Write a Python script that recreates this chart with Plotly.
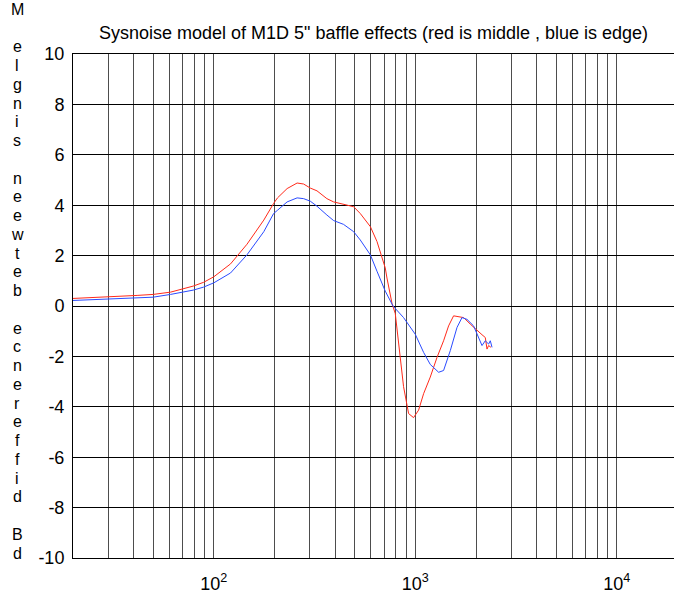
import math
import plotly.graph_objects as go

# ---- data ----
freq_red = [20, 30, 41.6, 50, 61, 79, 89, 100, 121, 146, 177, 198, 207, 231, 259, 279, 301,
            325, 364, 393, 440, 494, 533, 598, 645, 709, 723, 766, 795, 842, 874, 926, 980,
            1038, 1099, 1186, 1281, 1381, 1462, 1548, 1639, 1736, 1874, 2023, 2142, 2224,
            2268, 2310, 2373]
db_red = [0.30, 0.35, 0.42, 0.46, 0.55, 0.79, 0.94, 1.16, 1.67, 2.45, 3.41, 4.07, 4.29, 4.66,
          4.88, 4.84, 4.68, 4.57, 4.26, 4.13, 4.04, 3.94, 3.67, 3.15, 2.56, 1.51, 1.11, 0.10,
          -0.30, -2.17, -3.20, -4.27, -4.43, -4.13, -3.48, -2.82, -2.04, -1.38, -0.79, -0.39,
          -0.43, -0.46, -0.72, -0.98, -1.14, -1.25, -1.71, -1.57, -1.64]

freq_blue = [20, 30, 41.6, 50, 61, 79, 89, 100, 121, 146, 177, 198, 207, 231, 259, 279, 301,
             325, 364, 393, 440, 494, 533, 598, 645, 709, 775, 874, 999, 1099, 1186, 1305,
             1381, 1491, 1610, 1704, 1805, 1946, 2142, 2224, 2310, 2355, 2402]
db_blue = [0.22, 0.27, 0.30, 0.35, 0.46, 0.63, 0.75, 0.92, 1.31, 2.03, 2.95, 3.67, 3.80, 4.13,
           4.29, 4.26, 4.16, 3.96, 3.61, 3.39, 3.24, 2.95, 2.62, 2.03, 1.38, 0.59, 0.00,
           -0.46, -1.12, -1.84, -2.32, -2.63, -2.56, -1.77, -0.85, -0.46, -0.53, -0.79,
           -1.57, -1.38, -1.51, -1.38, -1.64]

x_major_vals = [100, 1000, 10000]
x_major_text = ["10<sup>2</sup>", "10<sup>3</sup>", "10<sup>4</sup>"]
x_minor_vals = [20, 30, 40, 50, 60, 70, 80, 90,
                200, 300, 400, 500, 600, 700, 800, 900,
                2000, 3000, 4000, 5000, 6000, 7000, 8000, 9000]
y_tick_vals = [-10, -8, -6, -4, -2, 0, 2, 4, 6, 8, 10]
y_tick_text = ["-10", "-8", "-6", "-4", "-2", "0", "2", "4", "6", "8", "10"]

title_text = "Sysnoise model of M1D 5\" baffle effects (red is middle , blue is edge)"
ylabel_text = "dB difference between single M"

FONT = "Liberation Sans, Arial, Helvetica, sans-serif"
W, H = 674, 594
L, R, T, B = 73, 0, 54, 32
PW, PH = W - L - R, H - T - B

fig = go.Figure()
fig.add_trace(go.Scatter(x=freq_red, y=db_red, mode="lines",
                         line=dict(color="#ff2a1a", width=1), showlegend=False))
fig.add_trace(go.Scatter(x=freq_blue, y=db_blue, mode="lines",
                         line=dict(color="#2a4bff", width=1), showlegend=False))

decade_px = 201.5
x0 = math.log10(20)
x1 = x0 + PW / decade_px

fig.update_xaxes(type="log", range=[x0, x1],
                 tickmode="array", tickvals=x_major_vals, ticktext=x_major_text,
                 showgrid=True, gridcolor="#4d4d4d", gridwidth=1,
                 minor=dict(tickmode="array", tickvals=x_minor_vals, showgrid=True,
                            gridcolor="#4d4d4d", gridwidth=1, ticks=""),
                 showline=True, linecolor="black", linewidth=1, mirror=True,
                 ticks="", ticklabelstandoff=9,
                 tickfont=dict(family=FONT, size=18, color="black"),
                 zeroline=False)
fig.update_yaxes(range=[-10, 10], tickmode="array", tickvals=y_tick_vals,
                 ticktext=y_tick_text,
                 showgrid=True, gridcolor="black", gridwidth=1,
                 showline=True, linecolor="black", linewidth=1, mirror=False,
                 ticks="", ticklabelstandoff=4,
                 tickfont=dict(family=FONT, size=18, color="black"),
                 zeroline=False)

# stacked (reversed) y-label letters
chars = list(ylabel_text)[::-1]
for i, ch in enumerate(chars):
    if ch == " ":
        continue
    py = 9 + 18.9 * i
    fig.add_annotation(text=ch, xref="paper", yref="paper",
                       x=(17 - L) / PW, y=(H - B - py) / PH,
                       xanchor="center", yanchor="middle", showarrow=False,
                       font=dict(family=FONT, size=16, color="black"))

fig.update_layout(
    width=W, height=H, margin=dict(l=L, r=R, t=T, b=B),
    paper_bgcolor="white", plot_bgcolor="white",
    title=dict(text=title_text, x=0.5, xref="paper", y=1 - 33 / H, yref="container",
               xanchor="center", yanchor="middle",
               font=dict(family=FONT, size=18, color="black")),
)

fig.write_html("out.html")
